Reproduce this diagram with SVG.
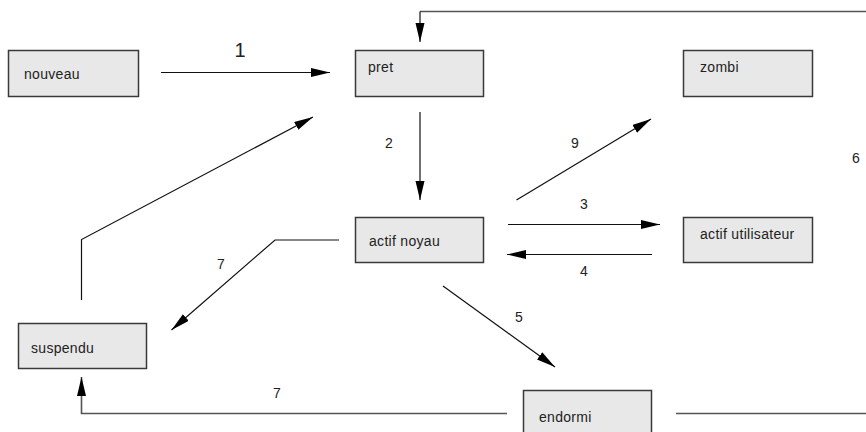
<svg xmlns="http://www.w3.org/2000/svg" width="866" height="432" viewBox="0 0 866 432">
<style>
.box rect{fill:#e8e8e8;stroke:#3a3a3a;stroke-width:1.5}
.box text{font-family:"Liberation Sans",Arial,sans-serif;font-size:14px;letter-spacing:0.3px;fill:#222}
.lbl{font-family:"Liberation Sans",Arial,sans-serif;font-size:14px;fill:#222}
.c{fill:none;stroke:#111;stroke-width:1.2}
.g{fill:none;stroke:#555;stroke-width:1.6}
</style>
<defs>
<marker id="ah" markerUnits="userSpaceOnUse" markerWidth="20" markerHeight="10" refX="19" refY="4.5" orient="auto">
<path d="M0,0 L19,4.5 L0,9 z" fill="#000"/>
</marker>
</defs>
<rect width="866" height="432" fill="#fff"/>
<g id="connectors">
<line class="c" x1="161" y1="72.5" x2="330" y2="72.5" marker-end="url(#ah)"/>
<text class="lbl" x="240" y="57" font-size="20" text-anchor="middle" style="font-size:20px">1</text>
<line class="c" x1="420" y1="112" x2="420" y2="200" marker-end="url(#ah)"/>
<text class="lbl" x="389" y="148" text-anchor="middle">2</text>
<line class="c" x1="508" y1="224.5" x2="660" y2="224.5" marker-end="url(#ah)"/>
<text class="lbl" x="584" y="209" text-anchor="middle">3</text>
<line class="c" x1="652" y1="254.5" x2="507" y2="254.5" marker-end="url(#ah)"/>
<text class="lbl" x="584" y="276" text-anchor="middle">4</text>
<line class="c" x1="443" y1="286" x2="555" y2="367" marker-end="url(#ah)"/>
<text class="lbl" x="519" y="322" text-anchor="middle">5</text>
<polyline class="g" points="676,413.5 870,413.5 870,11.5 420,11.5"/>
<line class="c" x1="420" y1="11.5" x2="420" y2="42" marker-end="url(#ah)"/>
<text class="lbl" x="856" y="163" text-anchor="middle">6</text>
<polyline class="c" points="339,240 275,240 171.5,330" marker-end="url(#ah)"/>
<text class="lbl" x="221" y="269" text-anchor="middle">7</text>
<polyline class="g" points="507,413.5 81.5,413.5 81.5,377" marker-end="url(#ah)"/>
<text class="lbl" x="277" y="398" text-anchor="middle">7</text>
<line class="c" x1="516.5" y1="200" x2="651" y2="119" marker-end="url(#ah)"/>
<text class="lbl" x="575" y="148" text-anchor="middle">9</text>
<polyline class="c" points="81.5,300 81.5,239.5 313,117" marker-end="url(#ah)"/>
</g>
<g id="nouveau" class="box"><rect x="8.5" y="50.5" width="130" height="46"/><text x="24" y="79">nouveau</text></g>
<g id="pret" class="box"><rect x="355.5" y="50.5" width="128" height="46"/><text x="368" y="72">pret</text></g>
<g id="zombi" class="box"><rect x="683.5" y="50.5" width="129" height="46"/><text x="700" y="72">zombi</text></g>
<g id="actif_noyau" class="box"><rect x="355.5" y="217.5" width="128" height="45"/><text x="369" y="246">actif noyau</text></g>
<g id="actif_utilisateur" class="box"><rect x="683.5" y="217.5" width="129" height="45"/><text x="700" y="239">actif utilisateur</text></g>
<g id="suspendu" class="box"><rect x="18.5" y="323.5" width="128" height="45"/><text x="31" y="353">suspendu</text></g>
<g id="endormi" class="box"><rect x="523.5" y="390.5" width="128" height="46"/><text x="539" y="422">endormi</text></g>
</svg>
